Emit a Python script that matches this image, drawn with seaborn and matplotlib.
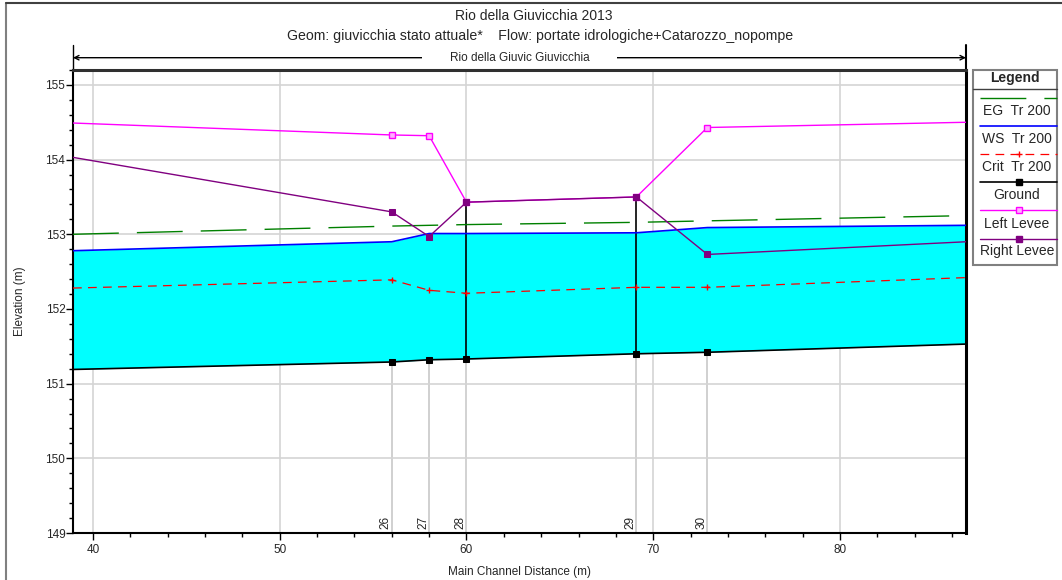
import matplotlib
matplotlib.use("Agg")
import matplotlib.pyplot as plt
from matplotlib.lines import Line2D
from matplotlib.patches import Rectangle
from matplotlib.ticker import MultipleLocator
import matplotlib.transforms as mtransforms
import seaborn as sns
import pandas as pd

# ---------------- data ----------------
station = [38.93, 56.0, 58.0, 60.0, 69.1, 72.9, 86.75]
ground = [151.19, 151.29, 151.32, 151.33, 151.40, 151.42, 151.53]
ws = [152.78, 152.90, 153.01, 153.01, 153.02, 153.09, 153.12]
eg = [153.00, 153.11, 153.12, 153.13, 153.16, 153.18, 153.25]
crit = [152.28, 152.39, 152.25, 152.21, 152.29, 152.29, 152.42]
left_levee = [154.49, 154.33, 154.32, 153.43, 153.50, 154.43, 154.50]
right_levee = [154.03, 153.30, 152.97, 153.43, 153.50, 152.73, 152.90]
section_labels = ["26", "27", "28", "29", "30"]
section_idx = [1, 2, 3, 4, 5]
structure_idx = [3, 4]

title = "Rio della Giuvicchia 2013"
subtitle = "Geom: giuvicchia stato attuale*    Flow: portate idrologiche+Catarozzo_nopompe"
river_label = "Rio della Giuvic Giuvicchia"
legend_labels = ["EG  Tr 200", "WS  Tr 200", "Crit  Tr 200", "Ground", "Left Levee", "Right Levee"]

df = pd.DataFrame({"station": station, "ground": ground, "ws": ws, "eg": eg,
                   "crit": crit, "left": left_levee, "right": right_levee})

sns.set_style("white")
plt.rcParams["font.family"] = ["Liberation Sans", "DejaVu Sans"]

W, H = 1062, 580
fig = plt.figure(figsize=(W / 100, H / 100), dpi=100)
L, R, T, B = 73, 966, 70, 533
ax = fig.add_axes([L / W, 1 - B / H, (R - L) / W, (B - T) / H])

ax.set_xlim(38.93, 86.75)
ax.set_ylim(149, 155.2)

# grid
ax.xaxis.set_major_locator(MultipleLocator(10))
ax.xaxis.set_minor_locator(MultipleLocator(2))
ax.yaxis.set_major_locator(MultipleLocator(1))
ax.yaxis.set_minor_locator(MultipleLocator(0.2))
ax.grid(True, which="major", color="#d4d4d4", lw=1.2, zorder=0)
ax.set_axisbelow(True)

sec_x = [station[i] for i in section_idx]
sec_g = [ground[i] for i in section_idx]
ax.vlines(sec_x, 149, sec_g, color="#c8c8c8", lw=1.2, zorder=0.5)

# water fill
ax.fill_between(df["station"], df["ground"], df["ws"], color="#00FFFF", lw=0, zorder=1)

# structure verticals
ax.vlines([station[i] for i in structure_idx], [ground[i] for i in structure_idx],
          [right_levee[i] for i in structure_idx], color="black", lw=1.2, zorder=3)

sns.lineplot(data=df, x="station", y="ground", ax=ax, color="black", lw=1.2,
             marker="s", markersize=4.5, markevery=section_idx, mec="black", mfc="black", zorder=4)
sns.lineplot(data=df, x="station", y="ws", ax=ax, color="#0000FF", lw=1.2, zorder=4)
sns.lineplot(data=df, x="station", y="crit", ax=ax, color="#FF0000", lw=0.9,
             dashes=(7, 5), marker="+", markersize=5, markevery=section_idx, mew=1.0,
             mec="#FF0000", zorder=4)
sns.lineplot(data=df, x="station", y="eg", ax=ax, color="#008000", lw=1.0,
             dashes=(33, 13), zorder=4)
sns.lineplot(data=df, x="station", y="left", ax=ax, color="#FF00FF", lw=1.0,
             marker="s", markersize=4, markevery=section_idx, mec="#FF00FF", mfc="#FFB0FF",
             mew=1.0, zorder=5)
sns.lineplot(data=df, x="station", y="right", ax=ax, color="#800080", lw=1.0,
             marker="s", markersize=5, markevery=section_idx, mec="#800080", mfc="#800080",
             zorder=6)

# section labels
off = mtransforms.offset_copy(ax.transData, fig=fig, x=0, y=4, units="dots")
for xs, lab in zip(sec_x, section_labels):
    ax.text(xs, 149, lab, rotation=90, ha="right", va="bottom", fontsize=8.5,
            transform=off, zorder=7)

# axes styling
for s in ["left", "bottom"]:
    ax.spines[s].set_color("black")
    ax.spines[s].set_linewidth(1.5)
ax.spines["right"].set_color("black")
ax.spines["right"].set_linewidth(2.2)
ax.spines["top"].set_color("#303030")
ax.spines["top"].set_linewidth(2.2)
ax.tick_params(axis="both", which="major", direction="out", length=5, width=1,
               labelsize=8.5, color="black", bottom=True, left=True)
ax.tick_params(axis="both", which="minor", direction="out", length=3, width=1,
               color="black", bottom=True, left=True)
ax.tick_params(axis="x", pad=3)
ax.tick_params(axis="y", pad=0.5)
ax.set_xlabel("Main Channel Distance (m)", fontsize=8.5)
ax.set_ylabel("Elevation (m)", fontsize=8.5)
ax.xaxis.set_label_coords(0.5, -(572 - B) / (B - T))
ax.yaxis.set_label_coords(-(L - 20) / (R - L), 0.5)
ax.xaxis.label.set_va("center")
ax.yaxis.label.set_va("center")

# titles
fig.text(534 / W, 1 - 16 / H, title, ha="center", va="center", fontsize=10)
fig.text(540 / W, 1 - 36 / H, subtitle, ha="center", va="center", fontsize=10.2)

# river reach annotation
yarr = 1 + 12.3 / (B - T)
ax.annotate("", xy=(0.0, yarr), xytext=(1.0, yarr), xycoords="axes fraction",
            arrowprops=dict(arrowstyle="<->", color="black", lw=1.0,
                            shrinkA=0, shrinkB=0, mutation_scale=8))
ax.text(0.5, yarr, river_label, transform=ax.transAxes, ha="center", va="center",
        fontsize=8.5, bbox=dict(facecolor="white", edgecolor="none", pad=0),
        zorder=10, clip_on=False)
ax.add_line(Line2D([0, 0], [1, 1 + 25 / (B - T)], transform=ax.transAxes,
                   color="black", lw=1.0, clip_on=False))
ax.add_line(Line2D([1, 1], [1, 1 + 25 / (B - T)], transform=ax.transAxes,
                   color="black", lw=1.5, clip_on=False))
ax.add_patch(Rectangle((0.5 - 0.109, yarr - 0.01), 0.218, 0.02, transform=ax.transAxes,
                       facecolor="white", edgecolor="none", clip_on=False, zorder=9))

# legend (manual, HEC-RAS style)
def fx(px):
    return px / W

def fy(py):
    return 1 - py / H

lx0, lx1, ly0, ly1 = 973, 1057, 70, 265
fig.patches.append(Rectangle((fx(lx0), fy(ly1)), fx(lx1 - lx0), (ly1 - ly0) / H,
                             transform=fig.transFigure, facecolor="white",
                             edgecolor="#808080", lw=1.5))
fig.text(fx((lx0 + lx1) / 2), fy(78), "Legend", ha="center", va="center",
         fontsize=10, fontweight="bold")
fig.lines.append(Line2D([fx(lx0), fx(lx1)], [fy(89), fy(89)], transform=fig.transFigure,
                        color="#404040", lw=1.0))
styles = [
    dict(color="#008000", lw=1.0, dashes=(33, 13)),
    dict(color="#0000FF", lw=1.2),
    dict(color="#FF0000", lw=0.9, dashes=(7, 5), marker="+", markersize=5, markevery=[1]),
    dict(color="black", lw=1.2, marker="s", markersize=4, markevery=[1]),
    dict(color="#FF00FF", lw=1.0, marker="s", markersize=4, markevery=[1], mfc="#FFB0FF"),
    dict(color="#800080", lw=1.0, marker="s", markersize=5, markevery=[1]),
]
line_y = [98, 126, 154, 182, 210.5, 238.5]
for lab, st, yy in zip(legend_labels, styles, line_y):
    fig.lines.append(Line2D([fx(980), fx((980 + 1057) / 2), fx(1057)], [fy(yy)] * 3,
                            transform=fig.transFigure, **st))
    fig.text(fx((lx0 + lx1) / 2 + 2), fy(yy + 13), lab, ha="center", va="center", fontsize=10)

# outer frame (left and top)
fig.lines.append(Line2D([fx(5.5), fx(5.5)], [fy(3), 0], transform=fig.transFigure,
                        color="#808080", lw=1.5))
fig.lines.append(Line2D([fx(5.5), 1], [fy(3), fy(3)], transform=fig.transFigure,
                        color="#404040", lw=1.5))

fig.savefig("out.png", dpi=100)
